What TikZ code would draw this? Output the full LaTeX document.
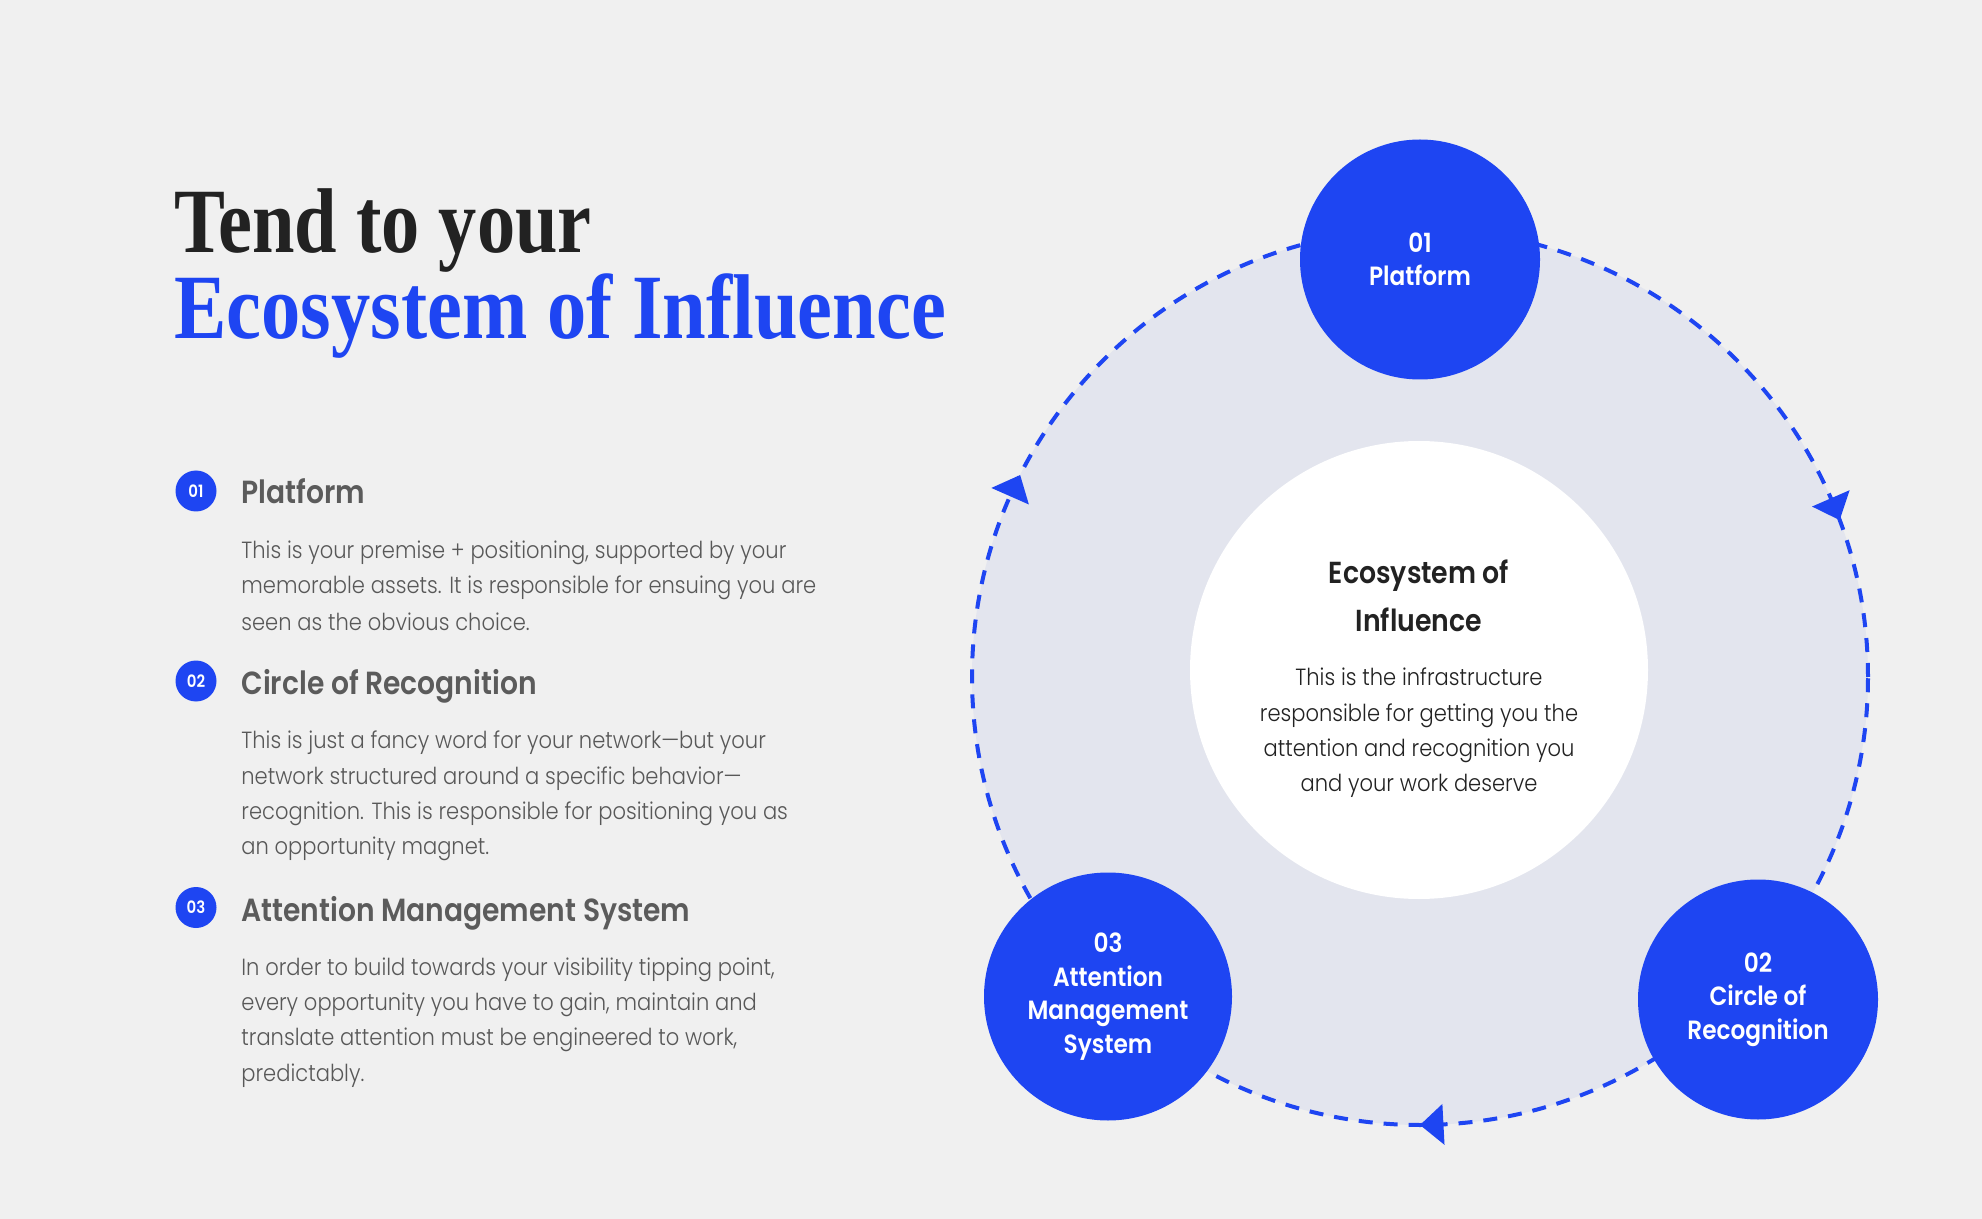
\documentclass[tikz,border=0pt]{standalone}
\usepackage{fontspec}
\setmainfont{Poppins}
\newfontfamily\fbody[FakeStretch=0.9]{Poppins Light}
\newfontfamily\fsemi[FakeStretch=0.88]{Poppins SemiBold}
\newfontfamily\ftitle{Liberation Serif}
\definecolor{bg}{HTML}{F0F0F0}
\definecolor{eblue}{HTML}{1E45F2}
\definecolor{lav}{HTML}{E3E5EE}
\definecolor{dark}{HTML}{222222}
\definecolor{headgray}{HTML}{5B5B5B}
\definecolor{bodygray}{HTML}{585858}
\tikzset{
  titleline/.style={anchor=base west, inner sep=0pt, font=\ftitle\bfseries\fontsize{46}{50}\selectfont},
  badge/.style={circle, fill=eblue, minimum size=20.5pt, inner sep=0pt, text=white, font=\fsemi\fontsize{8.5}{8.5}\selectfont},
  itemhead/.style={anchor=base west, inner sep=0pt, text=headgray, font=\fsemi\fontsize{16}{16}\selectfont},
  itembody/.style={anchor=base west, inner sep=0pt, text=bodygray, font=\fbody\fontsize{11.7}{12}\selectfont},
  stage/.style={circle, fill=eblue, text=white, align=center, inner sep=0pt, font=\fsemi\fontsize{13.2}{16.75}\selectfont},
  arrowtip/.style={fill=eblue}
}
\begin{document}
\begin{tikzpicture}[x=0.5pt,y=-0.5pt]
\useasboundingbox (0,0) rectangle (1982,1219);
\fill[bg] (0,0) rectangle (1982,1219);

% title
\node[titleline, text=dark, text depth=0pt] (t1) at (174,253) {\scalebox{0.83}[1]{Tend to your}};
\node[titleline, text=eblue] (t2) at (174,339) {\scalebox{0.853}[1]{Ecosystem of Influence}};

% list item 1
\node[badge] (b1) at (196,491) {01};
\node[itemhead] (h1) at (241,504) {Platform};
\node[itembody] (p1a) at (241,559) {This is your premise + positioning, supported by your};
\node[itembody] (p1b) at (241,594) {memorable assets. It is responsible for ensuing you are};
\node[itembody] (p1c) at (241,630) {seen as the obvious choice.};

% list item 2
\node[badge] (b2) at (196,681) {02};
\node[itemhead] (h2) at (241,694) {Circle of Recognition};
\node[itembody] (p2a) at (241,748) {This is just a fancy word for your network—but your};
\node[itembody] (p2b) at (241,784) {network structured around a specific behavior—};
\node[itembody] (p2c) at (241,819) {recognition. This is responsible for positioning you as};
\node[itembody] (p2d) at (241,854) {an opportunity magnet.};

% list item 3
\node[badge] (b3) at (196,907.5) {03};
\node[itemhead] (h3) at (241,921) {Attention Management System};
\node[itembody] (p3a) at (241,975) {In order to build towards your visibility tipping point,};
\node[itembody] (p3b) at (241,1010) {every opportunity you have to gain, maintain and};
\node[itembody] (p3c) at (241,1045) {translate attention must be engineered to work,};
\node[itembody] (p3d) at (241,1081) {predictably.};

% ring
\node[circle, minimum size=448pt, inner sep=0pt, fill=lav, draw=eblue, line width=2pt, dash pattern=on 7pt off 5.5pt] (ring) at (1420,677) {};

% arrowheads (clockwise)
\begin{scope}[shift={(1420,677)}]
  \fill[arrowtip] (339.5:448) -- (336.5:468.5) -- (336.5:427.5) -- cycle;
  \fill[arrowtip] (206.8:448) -- (203.8:468.5) -- (203.8:427.5) -- cycle;
  \fill[arrowtip] (90:448) -- (87:468.5) -- (87:427.5) -- cycle;
\end{scope}

% core
\node[circle, fill=white, minimum size=229pt, inner sep=0pt] (core) at (1419,670) {};
\node[align=center, text=dark, font=\fsemi\fontsize{15.2}{24}\selectfont] (coretitle) at (1419,596) {Ecosystem of\\Influence};
\node[align=center, text=dark, font=\fbody\fontsize{11.7}{17.65}\selectfont] (corebody) at (1419,733) {This is the infrastructure\\responsible for getting you the\\attention and recognition you\\and your work deserve};

% stages
\node[stage, minimum size=120pt] (s1) at (1420,259.5) {01\\Platform};
\node[stage, minimum size=120pt] (s2) at (1758,999.5) {02\\Circle of\\Recognition};
\node[stage, minimum size=124pt] (s3) at (1108,996.5) {03\\Attention\\Management\\System};
\end{tikzpicture}
\end{document}
